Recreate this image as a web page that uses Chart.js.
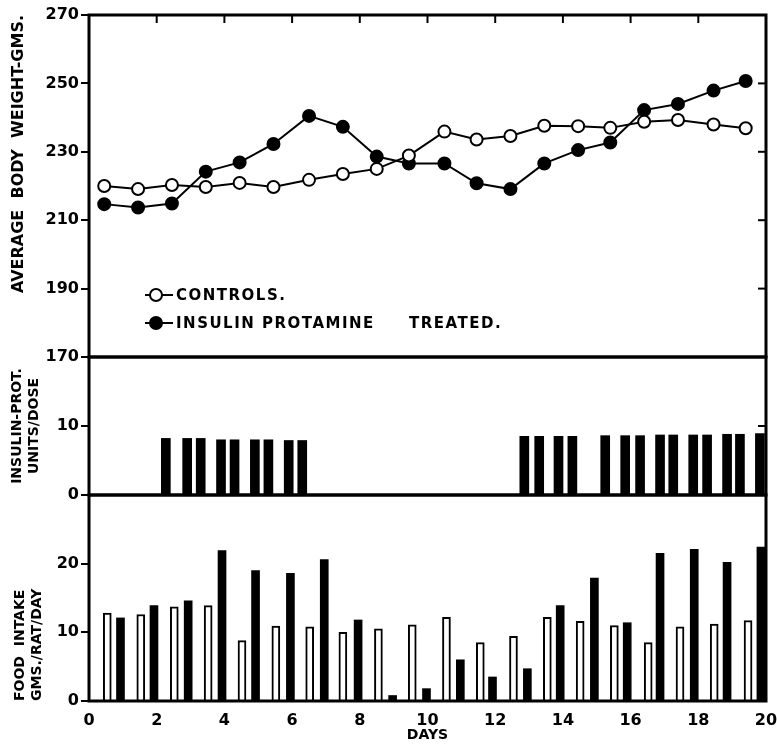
<!DOCTYPE html>
<html>
<head>
<meta charset="utf-8">
<script src="https://cdn.jsdelivr.net/npm/chart.js@4.4.0/dist/chart.umd.min.js"></script>
<style>
    html, body { margin: 0; padding: 0; background: #fff; }
    #wrap { position: relative; width: 777px; height: 746px; }
    .panel { position: absolute; left: 0; width: 777px; }
</style>
</head>
<body>
<div id="wrap">
    <div class="panel" style="top:0;height:380px"><canvas id="weightChart"></canvas></div>
    <div class="panel" style="top:340px;height:180px"><canvas id="insulinChart"></canvas></div>
    <div class="panel" style="top:480px;height:266px"><canvas id="foodChart"></canvas></div>
</div>
<script>
// Body weight (top panel)
const weightDays = [0.45, 1.45, 2.45, 3.45, 4.45, 5.45, 6.5, 7.5, 8.5, 9.45, 10.5, 11.45, 12.45, 13.45, 14.45, 15.4, 16.4, 17.4, 18.45, 19.4];
const controlWeight = [220.0, 219.1, 220.3, 219.7, 220.9, 219.7, 221.8, 223.5, 225.0, 228.9, 235.9, 233.6, 234.6, 237.6, 237.5, 237.0, 238.8, 239.3, 238.0, 236.9];
const treatedWeight = [214.7, 213.7, 214.9, 224.2, 226.9, 232.3, 240.5, 237.3, 228.6, 226.6, 226.6, 220.8, 219.1, 226.6, 230.5, 232.7, 242.2, 244.0, 247.9, 250.7];

// Insulin-protamine doses (middle panel)
const doseDays = [2.27, 2.9, 3.3, 3.9, 4.3, 4.9, 5.3, 5.9, 6.3, 12.86, 13.3, 13.87, 14.28, 15.25, 15.84, 16.28, 16.87, 17.26, 17.85, 18.26, 18.85, 19.23, 19.82];
const doseUnits = [8.2, 8.2, 8.2, 8.0, 8.0, 8.0, 8.0, 7.9, 7.9, 8.5, 8.5, 8.5, 8.5, 8.6, 8.6, 8.6, 8.7, 8.7, 8.7, 8.7, 8.8, 8.8, 8.9];

// Food intake (bottom panel)
const controlFoodDays = [0.54, 1.53, 2.52, 3.52, 4.52, 5.52, 6.52, 7.5, 8.55, 9.55, 10.56, 11.56, 12.54, 13.54, 14.51, 15.52, 16.52, 17.46, 18.47, 19.47];
const controlFood = [12.8, 12.6, 13.7, 13.9, 8.8, 10.9, 10.8, 10.0, 10.5, 11.1, 12.2, 8.5, 9.4, 12.2, 11.6, 11.0, 8.5, 10.8, 11.2, 11.7];
const treatedFoodDays = [0.93, 1.92, 2.93, 3.93, 4.92, 5.95, 6.95, 7.95, 8.97, 9.97, 10.97, 11.92, 12.95, 13.92, 14.93, 15.9, 16.87, 17.88, 18.85, 19.85];
const treatedFood = [12.1, 13.9, 14.6, 21.9, 19.0, 18.6, 20.6, 11.8, 0.8, 1.8, 6.0, 3.5, 4.7, 13.9, 17.9, 11.4, 21.5, 22.1, 20.2, 22.4];

// Axis ticks
const weightTicks = [170, 190, 210, 230, 250, 270];
const dayTicks = [0, 2, 4, 6, 8, 10, 12, 14, 16, 18, 20];

Chart.defaults.font.family = "'DejaVu Sans', sans-serif";
Chart.defaults.color = "#000";
Chart.defaults.animation = false;

const toPoints = (xs, ys) => xs.map((x, i) => ({ x: x, y: ys[i] }));
const tickFont = { family: "'DejaVu Sans', sans-serif", weight: "bold", size: 16 };
const titleFont = { family: "'DejaVu Sans', sans-serif", weight: "bold", size: 14 };
const AXIS_W = 89;

// frame around the plot + small inward ticks on top and right edges
const framePlugin = {
    id: "frame",
    afterDatasetsDraw(chart, args, opts) {
        const { ctx, chartArea: a, scales } = chart;
        ctx.save();
        ctx.strokeStyle = "#000";
        ctx.lineWidth = 3;
        ctx.strokeRect(a.left, a.top, a.right - a.left, a.bottom - a.top);
        ctx.lineWidth = 2;
        (opts.right || []).forEach(v => {
            const y = scales.y.getPixelForValue(v);
            ctx.beginPath();
            ctx.moveTo(a.right, y);
            ctx.lineTo(a.right - 8, y);
            ctx.stroke();
        });
        (opts.top || []).forEach(v => {
            const x = scales.x.getPixelForValue(v);
            ctx.beginPath();
            ctx.moveTo(x, a.top);
            ctx.lineTo(x, a.top + 8);
            ctx.stroke();
        });
        ctx.restore();
    }
};

// legend drawn inside the top panel
const legendPlugin = {
    id: "innerLegend",
    afterDraw(chart) {
        const { ctx, chartArea: a } = chart;
        const rows = [
            { y: a.top + 280, fill: "#fff", texts: [["CONTROLS.", 0]] },
            { y: a.top + 308, fill: "#000", texts: [["INSULIN PROTAMINE", 0], ["TREATED.", 233]] }
        ];
        ctx.save();
        ctx.font = "bold 15px 'DejaVu Sans'";
        ctx.letterSpacing = "1.5px";
        ctx.textBaseline = "middle";
        ctx.fillStyle = "#000";
        rows.forEach(r => {
            const lx = a.left + 56;
            ctx.strokeStyle = "#000";
            ctx.lineWidth = 2;
            ctx.beginPath();
            ctx.moveTo(lx, r.y);
            ctx.lineTo(lx + 28, r.y);
            ctx.stroke();
            ctx.beginPath();
            ctx.arc(lx + 11, r.y, 6, 0, Math.PI * 2);
            ctx.fillStyle = r.fill;
            ctx.fill();
            ctx.stroke();
            ctx.fillStyle = "#000";
            r.texts.forEach(([t, dx]) => ctx.fillText(t, lx + 31 + dx, r.y + 1));
        });
        ctx.restore();
    }
};

const fixWidth = s => { s.width = AXIS_W; };
const hiddenDays = { type: "linear", min: 0, max: 20, offset: false, display: false };

// Weight chart
new Chart(document.getElementById("weightChart"), {
    type: "line",
    data: {
        datasets: [
            {
                label: "Controls",
                data: toPoints(weightDays, controlWeight),
                borderColor: "#000",
                borderWidth: 2,
                pointRadius: 6,
                pointBorderWidth: 2,
                pointBackgroundColor: "#fff",
                pointBorderColor: "#000",
                tension: 0
            },
            {
                label: "Insulin protamine treated",
                data: toPoints(weightDays, treatedWeight),
                borderColor: "#000",
                borderWidth: 2,
                pointRadius: 6,
                pointBorderWidth: 2,
                pointBackgroundColor: "#000",
                pointBorderColor: "#000",
                tension: 0
            }
        ]
    },
    options: {
        responsive: true,
        maintainAspectRatio: false,
        layout: { padding: { top: 15, bottom: 23, left: 0, right: 11 } },
        plugins: {
            legend: { display: false },
            tooltip: { enabled: false },
            frame: { right: [190, 210, 230, 250], top: [2, 4, 6, 8, 10, 12, 14, 16, 18] }
        },
        scales: {
            x: hiddenDays,
            y: {
                min: 170, max: 270,
                afterFit: fixWidth,
                afterBuildTicks: s => { s.ticks = weightTicks.map(v => ({ value: v })); },
                border: { display: false },
                grid: { drawOnChartArea: false, color: "#000", lineWidth: 2, tickLength: 8 },
                ticks: { font: tickFont, padding: 2 },
                title: {
                    display: true,
                    text: "AVERAGE  BODY  WEIGHT-GMS.",
                    align: "end",
                    font: { family: "'DejaVu Sans', sans-serif", weight: "bold", size: 16 },
                    padding: { top: 9, bottom: 0 }
                }
            }
        }
    },
    plugins: [framePlugin, legendPlugin]
});

// Insulin dose chart
new Chart(document.getElementById("insulinChart"), {
    type: "bar",
    data: {
        datasets: [{
            label: "Insulin-protamine units/dose",
            data: toPoints(doseDays, doseUnits),
            backgroundColor: "#000",
            barThickness: 9,
            grouped: false
        }]
    },
    options: {
        responsive: true,
        maintainAspectRatio: false,
        layout: { padding: { top: 17, bottom: 25, left: 0, right: 11 } },
        plugins: {
            legend: { display: false },
            tooltip: { enabled: false },
            frame: { right: [10] }
        },
        scales: {
            x: hiddenDays,
            y: {
                min: 0, max: 20,
                afterFit: fixWidth,
                ticks: { stepSize: 10, font: tickFont, padding: 2 },
                afterBuildTicks: s => { s.ticks = s.ticks.filter(t => t.value < 20); },
                border: { display: false },
                grid: { drawOnChartArea: false, color: "#000", lineWidth: 2, tickLength: 8 },
                title: {
                    display: true,
                    text: ["INSULIN-PROT.", "UNITS/DOSE"],
                    font: titleFont,
                    padding: { top: 9, bottom: 0 }
                }
            }
        }
    },
    plugins: [framePlugin]
});

// Food intake chart
new Chart(document.getElementById("foodChart"), {
    type: "bar",
    data: {
        datasets: [
            {
                label: "Controls",
                data: toPoints(controlFoodDays, controlFood),
                backgroundColor: "#fff",
                borderColor: "#000",
                borderWidth: 2,
                barThickness: 8,
                grouped: false
            },
            {
                label: "Insulin protamine treated",
                data: toPoints(treatedFoodDays, treatedFood),
                backgroundColor: "#000",
                borderColor: "#000",
                borderWidth: 0,
                barThickness: 8,
                grouped: false
            }
        ]
    },
    options: {
        responsive: true,
        maintainAspectRatio: false,
        layout: { padding: { top: 15, bottom: 0, left: 0, right: 11 } },
        plugins: {
            legend: { display: false },
            tooltip: { enabled: false },
            frame: {}
        },
        scales: {
            x: {
                type: "linear", min: 0, max: 20, offset: false,
                afterFit: s => { s.height = 45; s.paddingLeft = 0; s.paddingRight = 0; },
                afterBuildTicks: s => { s.ticks = dayTicks.map(v => ({ value: v })); },
                border: { display: false },
                grid: { display: false, offset: false },
                ticks: { font: tickFont, padding: 2, maxRotation: 0 },
                title: {
                    display: true,
                    text: "DAYS",
                    font: titleFont,
                    padding: { top: 0, bottom: 2 }
                }
            },
            y: {
                min: 0, max: 30,
                afterFit: fixWidth,
                ticks: { stepSize: 10, font: tickFont, padding: 2 },
                afterBuildTicks: s => { s.ticks = s.ticks.filter(t => t.value < 30); },
                border: { display: false },
                grid: { drawOnChartArea: false, color: "#000", lineWidth: 2, tickLength: 8 },
                title: {
                    display: true,
                    text: ["FOOD  INTAKE", "GMS./RAT/DAY"],
                    align: "start",
                    font: titleFont,
                    padding: { top: 12, bottom: 0 }
                }
            }
        }
    },
    plugins: [framePlugin]
});
</script>
</body>
</html>
